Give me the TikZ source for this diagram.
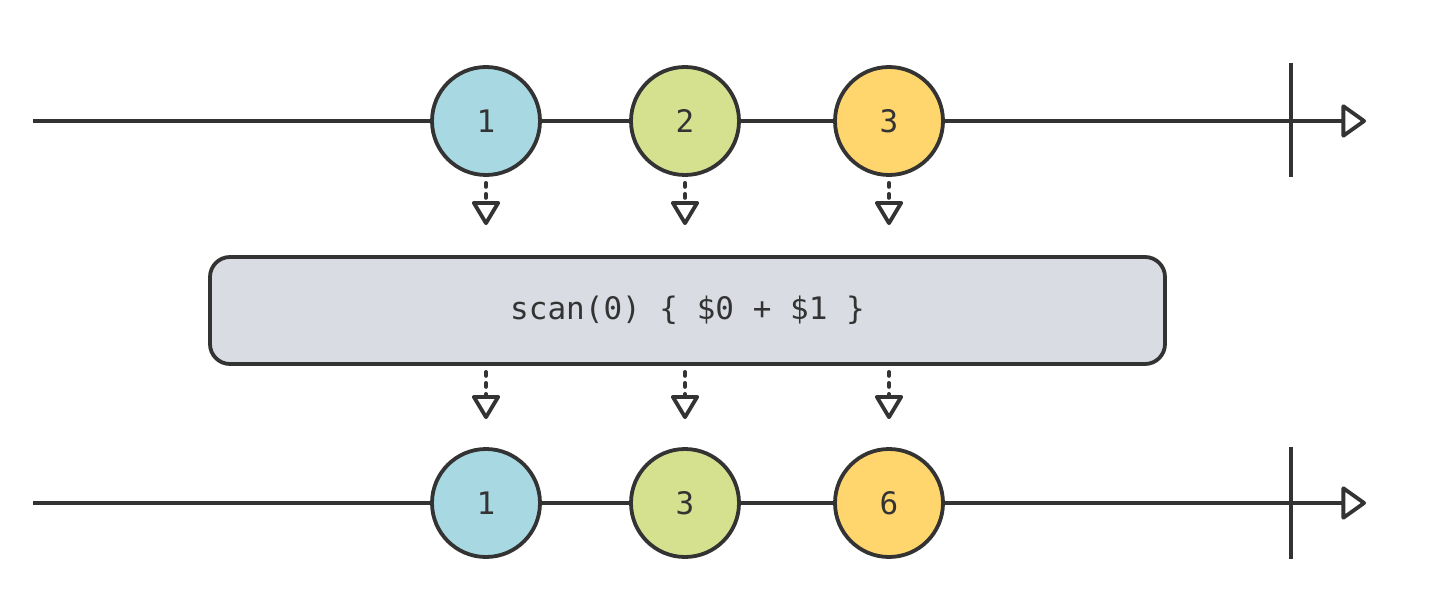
\documentclass[tikz,border=0pt]{standalone}
\usepackage{fontspec}
\setmonofont{DejaVu Sans Mono}
\usepackage{xcolor}
\usetikzlibrary{arrows.meta,positioning}
\definecolor{ink}{HTML}{333333}
\definecolor{mblue}{HTML}{A8D8E2}
\definecolor{mgreen}{HTML}{D6E18F}
\definecolor{myellow}{HTML}{FFD56D}
\definecolor{opgrey}{HTML}{D9DCE2}

\begin{document}
\begin{tikzpicture}[
  x=1pt, y=-1pt,
  font=\ttfamily\fontsize{31}{36}\selectfont,
  marble/.style={circle, draw=ink, line width=3.8pt, minimum size=108pt, inner sep=0pt, text=ink},
  op/.style={draw=ink, line width=3.8pt, rounded corners=20pt, fill=opgrey, minimum width=955pt, minimum height=107pt, text=ink},
  axis/.style={draw=ink, line width=3.8pt, -{Triangle[open, length=26pt, width=36pt, line join=round]}},
  stop/.style={draw=ink, line width=3.8pt},
  feed/.style={draw=ink, line width=3.8pt, dash pattern=on 4pt off 7pt, line cap=round,
    -{Triangle[open, length=26pt, width=30pt, line join=round]}},
]
\useasboundingbox (0,0) rectangle (1440,596);
% source timeline
\coordinate (s0) at (33,121);
\coordinate (s1) at (1366,121);
\draw[axis] (s0) -- (s1);
\draw[stop] (1291,63) -- (1291,177);
\node[marble, fill=mblue] (a1) at (486,121) {1};
\node[marble, fill=mgreen] (a2) at (685,121) {2};
\node[marble, fill=myellow] (a3) at (889,121) {3};
% operator
\node[op] (op) at (687.5,310.5) {scan(0) \{ \$0 + \$1 \}};
% result timeline
\coordinate (r0) at (33,503);
\coordinate (r1) at (1366,503);
\draw[axis] (r0) -- (r1);
\draw[stop] (1291,447) -- (1291,559);
\node[marble, fill=mblue] (b1) at (486,503) {1};
\node[marble, fill=mgreen] (b2) at (685,503) {3};
\node[marble, fill=myellow] (b3) at (889,503) {6};
% emissions
\foreach \i in {1,2,3} {
  \draw[feed, shorten <=6pt, shorten >=30pt] (a\i) -- (a\i |- op.north);
  \draw[feed, shorten <=6pt, shorten >=28pt] (b\i |- op.south) -- (b\i);
}
\end{tikzpicture}
\end{document}
